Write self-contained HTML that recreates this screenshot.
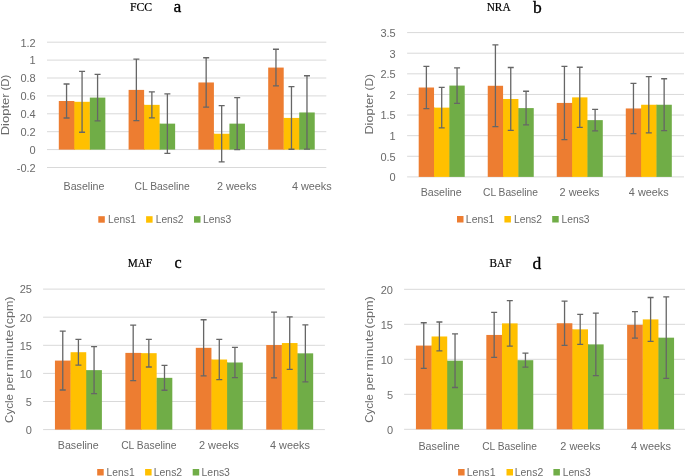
<!DOCTYPE html>
<html><head><meta charset="utf-8"><style>
html,body{margin:0;padding:0;background:#fff;}
body{width:685px;height:476px;overflow:hidden;}
svg{display:block;}
text{filter:grayscale(1);}
.ya{font-family:"Liberation Sans", sans-serif;font-size:11px;fill:#6a6a6a;}
.t{font-family:"Liberation Sans", sans-serif;font-size:11px;fill:#6a6a6a;}
.ti{font-family:"Liberation Serif", serif;font-size:11.7px;fill:#000;stroke:#000;stroke-width:0.2px;}
.le.lc{font-size:16px;}
.le{font-family:"Liberation Serif", serif;font-size:17.5px;fill:#000;stroke:#000;stroke-width:0.35px;}
.e{stroke:#666666;stroke-width:1.3;fill:none;}
</style></head><body>
<div id="w"><svg width="685" height="476" viewBox="0 0 685 476">
<rect width="685" height="476" fill="#fff"/>
<line x1="47" y1="167.5" x2="326.3" y2="167.5" stroke="#D9D9D9" stroke-width="1"/>
<line x1="47" y1="149.6" x2="326.3" y2="149.6" stroke="#D9D9D9" stroke-width="1"/>
<line x1="47" y1="131.7" x2="326.3" y2="131.7" stroke="#D9D9D9" stroke-width="1"/>
<line x1="47" y1="113.8" x2="326.3" y2="113.8" stroke="#D9D9D9" stroke-width="1"/>
<line x1="47" y1="95.9" x2="326.3" y2="95.9" stroke="#D9D9D9" stroke-width="1"/>
<line x1="47" y1="78" x2="326.3" y2="78" stroke="#D9D9D9" stroke-width="1"/>
<line x1="47" y1="60.1" x2="326.3" y2="60.1" stroke="#D9D9D9" stroke-width="1"/>
<line x1="47" y1="42.2" x2="326.3" y2="42.2" stroke="#D9D9D9" stroke-width="1"/>
<text x="35.7" y="171.86" text-anchor="end" class="t">-0.2</text>
<text x="35.7" y="153.96" text-anchor="end" class="t">0</text>
<text x="35.7" y="136.06" text-anchor="end" class="t">0.2</text>
<text x="35.7" y="118.16" text-anchor="end" class="t">0.4</text>
<text x="35.7" y="100.26" text-anchor="end" class="t">0.6</text>
<text x="35.7" y="82.36" text-anchor="end" class="t">0.8</text>
<text x="35.7" y="64.46" text-anchor="end" class="t">1</text>
<text x="35.7" y="46.56" text-anchor="end" class="t">1.2</text>
<rect x="58.8" y="101" width="15.51" height="48.6" fill="#ED7D31"/>
<rect x="74.11" y="101.81" width="1" height="47.79" fill="#ED7D31"/>
<rect x="74.31" y="101.81" width="15.51" height="47.79" fill="#FFC000"/>
<rect x="89.63" y="101.81" width="1" height="47.79" fill="#FFC000"/>
<rect x="89.83" y="97.6" width="15.51" height="52" fill="#70AD47"/>
<rect x="128.6" y="89.9" width="15.51" height="59.7" fill="#ED7D31"/>
<rect x="143.91" y="104.85" width="1" height="44.75" fill="#ED7D31"/>
<rect x="144.11" y="104.85" width="15.51" height="44.75" fill="#FFC000"/>
<rect x="159.43" y="123.64" width="1" height="25.95" fill="#FFC000"/>
<rect x="159.63" y="123.64" width="15.51" height="25.95" fill="#70AD47"/>
<rect x="198.4" y="82.47" width="15.51" height="67.12" fill="#ED7D31"/>
<rect x="213.71" y="133.76" width="1" height="15.84" fill="#ED7D31"/>
<rect x="213.91" y="133.76" width="15.51" height="15.84" fill="#FFC000"/>
<rect x="229.23" y="133.76" width="1" height="15.84" fill="#FFC000"/>
<rect x="229.43" y="123.64" width="15.51" height="25.95" fill="#70AD47"/>
<rect x="268.2" y="67.57" width="15.51" height="82.03" fill="#ED7D31"/>
<rect x="283.51" y="117.92" width="1" height="31.68" fill="#ED7D31"/>
<rect x="283.71" y="117.92" width="15.51" height="31.68" fill="#FFC000"/>
<rect x="299.03" y="117.92" width="1" height="31.68" fill="#FFC000"/>
<rect x="299.23" y="112.46" width="15.51" height="37.14" fill="#70AD47"/>
<path d="M66.56 84V118.01M63.56 84h6M63.56 118.01h6" class="e"/>
<path d="M82.07 71.38V132.24M79.07 71.38h6M79.07 132.24h6" class="e"/>
<path d="M97.58 74.33V120.87M94.58 74.33h6M94.58 120.87h6" class="e"/>
<path d="M136.36 59.12V120.69M133.36 59.12h6M133.36 120.69h6" class="e"/>
<path d="M151.87 91.87V117.83M148.87 91.87h6M148.87 117.83h6" class="e"/>
<path d="M167.38 93.84V153.45M164.38 93.84h6M164.38 153.45h6" class="e"/>
<path d="M206.16 57.77V107.18M203.16 57.77h6M203.16 107.18h6" class="e"/>
<path d="M221.67 105.66V161.86M218.67 105.66h6M218.67 161.86h6" class="e"/>
<path d="M237.18 97.69V149.6M234.18 97.69h6M234.18 149.6h6" class="e"/>
<path d="M275.96 49.27V85.88M272.96 49.27h6M272.96 85.88h6" class="e"/>
<path d="M291.47 86.59V149.24M288.47 86.59h6M288.47 149.24h6" class="e"/>
<path d="M306.98 75.76V149.15M303.98 75.76h6M303.98 149.15h6" class="e"/>
<text x="63.54" y="190.4" class="t" textLength="40.92" lengthAdjust="spacingAndGlyphs">Baseline</text>
<text x="134.48" y="190.4" class="t" textLength="55.27" lengthAdjust="spacingAndGlyphs">CL Baseline</text>
<text x="217.01" y="190.4" class="t" textLength="39.71" lengthAdjust="spacingAndGlyphs">2 weeks</text>
<text x="291.89" y="190.4" class="t" textLength="39.87" lengthAdjust="spacingAndGlyphs">4 weeks</text>
<text transform="translate(9.3 135.32) rotate(-90)" class="ya" textLength="41.86" lengthAdjust="spacingAndGlyphs">Diopter</text>
<text transform="translate(9.3 90.49) rotate(-90)" class="ya" textLength="15.83" lengthAdjust="spacingAndGlyphs">(D)</text>
<text x="129.99" y="10.7" class="ti" textLength="22.11" lengthAdjust="spacingAndGlyphs">FCC</text>
<text x="173.6" y="12" class="le">a</text>
<rect x="98.3" y="216.2" width="6.5" height="6.5" fill="#ED7D31"/>
<text x="108.12" y="222.8" class="t" textLength="27.88" lengthAdjust="spacingAndGlyphs">Lens1</text>
<rect x="146.1" y="216.2" width="6.5" height="6.5" fill="#FFC000"/>
<text x="155.73" y="222.8" class="t" textLength="27.79" lengthAdjust="spacingAndGlyphs">Lens2</text>
<rect x="194" y="216.2" width="6.5" height="6.5" fill="#70AD47"/>
<text x="203.02" y="222.8" class="t" textLength="28.22" lengthAdjust="spacingAndGlyphs">Lens3</text>
<line x1="407.1" y1="176.9" x2="684" y2="176.9" stroke="#D9D9D9" stroke-width="1"/>
<line x1="407.1" y1="156.28" x2="684" y2="156.28" stroke="#D9D9D9" stroke-width="1"/>
<line x1="407.1" y1="135.67" x2="684" y2="135.67" stroke="#D9D9D9" stroke-width="1"/>
<line x1="407.1" y1="115.06" x2="684" y2="115.06" stroke="#D9D9D9" stroke-width="1"/>
<line x1="407.1" y1="94.44" x2="684" y2="94.44" stroke="#D9D9D9" stroke-width="1"/>
<line x1="407.1" y1="73.83" x2="684" y2="73.83" stroke="#D9D9D9" stroke-width="1"/>
<line x1="407.1" y1="53.21" x2="684" y2="53.21" stroke="#D9D9D9" stroke-width="1"/>
<line x1="407.1" y1="32.6" x2="684" y2="32.6" stroke="#D9D9D9" stroke-width="1"/>
<text x="395.7" y="181.26" text-anchor="end" class="t">0</text>
<text x="395.7" y="160.65" text-anchor="end" class="t">0.5</text>
<text x="395.7" y="140.03" text-anchor="end" class="t">1</text>
<text x="395.7" y="119.42" text-anchor="end" class="t">1.5</text>
<text x="395.7" y="98.8" text-anchor="end" class="t">2</text>
<text x="395.7" y="78.19" text-anchor="end" class="t">2.5</text>
<text x="395.7" y="57.57" text-anchor="end" class="t">3</text>
<text x="395.7" y="36.96" text-anchor="end" class="t">3.5</text>
<rect x="418.7" y="87.51" width="15.34" height="89.39" fill="#ED7D31"/>
<rect x="433.84" y="107.63" width="1" height="69.27" fill="#ED7D31"/>
<rect x="434.04" y="107.63" width="15.34" height="69.27" fill="#FFC000"/>
<rect x="449.18" y="107.63" width="1" height="69.27" fill="#FFC000"/>
<rect x="449.38" y="85.58" width="15.34" height="91.32" fill="#70AD47"/>
<rect x="487.74" y="85.78" width="15.34" height="91.12" fill="#ED7D31"/>
<rect x="502.88" y="98.98" width="1" height="77.92" fill="#ED7D31"/>
<rect x="503.07" y="98.98" width="15.34" height="77.92" fill="#FFC000"/>
<rect x="518.21" y="108.09" width="1" height="68.81" fill="#FFC000"/>
<rect x="518.41" y="108.09" width="15.34" height="68.81" fill="#70AD47"/>
<rect x="556.76" y="102.93" width="15.34" height="73.97" fill="#ED7D31"/>
<rect x="571.9" y="102.93" width="1" height="73.97" fill="#ED7D31"/>
<rect x="572.11" y="97.37" width="15.34" height="79.53" fill="#FFC000"/>
<rect x="587.25" y="120.13" width="1" height="56.77" fill="#FFC000"/>
<rect x="587.44" y="120.13" width="15.34" height="56.77" fill="#70AD47"/>
<rect x="625.79" y="108.46" width="15.34" height="68.44" fill="#ED7D31"/>
<rect x="640.93" y="108.46" width="1" height="68.44" fill="#ED7D31"/>
<rect x="641.13" y="104.75" width="15.34" height="72.15" fill="#FFC000"/>
<rect x="656.27" y="104.75" width="1" height="72.15" fill="#FFC000"/>
<rect x="656.47" y="104.75" width="15.34" height="72.15" fill="#70AD47"/>
<path d="M426.38 66.36V108.66M423.38 66.36h6M423.38 108.66h6" class="e"/>
<path d="M441.71 87.43V127.84M438.71 87.43h6M438.71 127.84h6" class="e"/>
<path d="M457.06 67.85V103.3M454.06 67.85h6M454.06 103.3h6" class="e"/>
<path d="M495.41 44.96V126.6M492.41 44.96h6M492.41 126.6h6" class="e"/>
<path d="M510.75 67.52V130.43M507.75 67.52h6M507.75 130.43h6" class="e"/>
<path d="M526.08 91.27V124.91M523.08 91.27h6M523.08 124.91h6" class="e"/>
<path d="M564.43 66.28V139.59M561.43 66.28h6M561.43 139.59h6" class="e"/>
<path d="M579.77 67.27V127.47M576.77 67.27h6M576.77 127.47h6" class="e"/>
<path d="M595.11 109.41V130.85M592.11 109.41h6M592.11 130.85h6" class="e"/>
<path d="M633.46 83.31V133.61M630.46 83.31h6M630.46 133.61h6" class="e"/>
<path d="M648.8 76.71V132.78M645.8 76.71h6M645.8 132.78h6" class="e"/>
<path d="M664.14 78.77V130.72M661.14 78.77h6M661.14 130.72h6" class="e"/>
<text x="420.76" y="196.3" class="t" textLength="40.91" lengthAdjust="spacingAndGlyphs">Baseline</text>
<text x="482.97" y="196.3" class="t" textLength="54.97" lengthAdjust="spacingAndGlyphs">CL Baseline</text>
<text x="559.6" y="196.3" class="t" textLength="39.98" lengthAdjust="spacingAndGlyphs">2 weeks</text>
<text x="628.87" y="196.3" class="t" textLength="39.81" lengthAdjust="spacingAndGlyphs">4 weeks</text>
<text transform="translate(373 134.61) rotate(-90)" class="ya" textLength="41.2" lengthAdjust="spacingAndGlyphs">Diopter</text>
<text transform="translate(373 90.45) rotate(-90)" class="ya" textLength="16.46" lengthAdjust="spacingAndGlyphs">(D)</text>
<text x="486.66" y="10.5" class="ti" textLength="23.99" lengthAdjust="spacingAndGlyphs">NRA</text>
<text x="533" y="13" class="le">b</text>
<rect x="457" y="216" width="6.5" height="6.5" fill="#ED7D31"/>
<text x="465.87" y="222.6" class="t" textLength="28.52" lengthAdjust="spacingAndGlyphs">Lens1</text>
<rect x="504.4" y="216" width="6.5" height="6.5" fill="#FFC000"/>
<text x="514.04" y="222.6" class="t" textLength="27.84" lengthAdjust="spacingAndGlyphs">Lens2</text>
<rect x="552.2" y="216" width="6.5" height="6.5" fill="#70AD47"/>
<text x="561.59" y="222.6" class="t" textLength="27.97" lengthAdjust="spacingAndGlyphs">Lens3</text>
<line x1="43.1" y1="429.6" x2="324.9" y2="429.6" stroke="#D9D9D9" stroke-width="1"/>
<line x1="43.1" y1="401.5" x2="324.9" y2="401.5" stroke="#D9D9D9" stroke-width="1"/>
<line x1="43.1" y1="373.4" x2="324.9" y2="373.4" stroke="#D9D9D9" stroke-width="1"/>
<line x1="43.1" y1="345.3" x2="324.9" y2="345.3" stroke="#D9D9D9" stroke-width="1"/>
<line x1="43.1" y1="317.2" x2="324.9" y2="317.2" stroke="#D9D9D9" stroke-width="1"/>
<line x1="43.1" y1="289.1" x2="324.9" y2="289.1" stroke="#D9D9D9" stroke-width="1"/>
<text x="31.9" y="433.96" text-anchor="end" class="t">0</text>
<text x="31.9" y="405.86" text-anchor="end" class="t">5</text>
<text x="31.9" y="377.76" text-anchor="end" class="t">10</text>
<text x="31.9" y="349.66" text-anchor="end" class="t">15</text>
<text x="31.9" y="321.56" text-anchor="end" class="t">20</text>
<text x="31.9" y="293.46" text-anchor="end" class="t">25</text>
<rect x="54.94" y="360.59" width="15.65" height="69.01" fill="#ED7D31"/>
<rect x="70.39" y="360.59" width="1" height="69.01" fill="#ED7D31"/>
<rect x="70.59" y="352.21" width="15.65" height="77.39" fill="#FFC000"/>
<rect x="86.04" y="370.14" width="1" height="59.46" fill="#FFC000"/>
<rect x="86.24" y="370.14" width="15.65" height="59.46" fill="#70AD47"/>
<rect x="125.37" y="352.89" width="15.65" height="76.71" fill="#ED7D31"/>
<rect x="140.82" y="353.17" width="1" height="76.43" fill="#ED7D31"/>
<rect x="141.02" y="353.17" width="15.65" height="76.43" fill="#FFC000"/>
<rect x="156.47" y="377.84" width="1" height="51.76" fill="#FFC000"/>
<rect x="156.67" y="377.84" width="15.65" height="51.76" fill="#70AD47"/>
<rect x="195.8" y="347.83" width="15.65" height="81.77" fill="#ED7D31"/>
<rect x="211.25" y="359.52" width="1" height="70.08" fill="#ED7D31"/>
<rect x="211.45" y="359.52" width="15.65" height="70.08" fill="#FFC000"/>
<rect x="226.9" y="362.5" width="1" height="67.1" fill="#FFC000"/>
<rect x="227.1" y="362.5" width="15.65" height="67.1" fill="#70AD47"/>
<rect x="266.23" y="345.02" width="15.65" height="84.58" fill="#ED7D31"/>
<rect x="281.68" y="345.02" width="1" height="84.58" fill="#ED7D31"/>
<rect x="281.88" y="343.05" width="15.65" height="86.55" fill="#FFC000"/>
<rect x="297.33" y="353.34" width="1" height="76.26" fill="#FFC000"/>
<rect x="297.53" y="353.34" width="15.65" height="76.26" fill="#70AD47"/>
<path d="M62.76 331.19V389.98M59.76 331.19h6M59.76 389.98h6" class="e"/>
<path d="M78.42 339.4V365.03M75.42 339.4h6M75.42 365.03h6" class="e"/>
<path d="M94.07 346.59V393.69M91.07 346.59h6M91.07 393.69h6" class="e"/>
<path d="M133.19 325.07V380.71M130.19 325.07h6M130.19 380.71h6" class="e"/>
<path d="M148.84 339.34V366.99M145.84 339.34h6M145.84 366.99h6" class="e"/>
<path d="M164.5 365.42V390.26M161.5 365.42h6M161.5 390.26h6" class="e"/>
<path d="M203.62 319.73V375.93M200.62 319.73h6M200.62 375.93h6" class="e"/>
<path d="M219.28 339.46V379.58M216.28 339.46h6M216.28 379.58h6" class="e"/>
<path d="M234.93 347.38V377.62M231.93 347.38h6M231.93 377.62h6" class="e"/>
<path d="M274.05 312.14V377.9M271.05 312.14h6M271.05 377.9h6" class="e"/>
<path d="M289.71 316.81V369.3M286.71 316.81h6M286.71 369.3h6" class="e"/>
<path d="M305.36 324.84V381.83M302.36 324.84h6M302.36 381.83h6" class="e"/>
<text x="57.83" y="449.1" class="t" textLength="40.9" lengthAdjust="spacingAndGlyphs">Baseline</text>
<text x="121.15" y="449.1" class="t" textLength="55.33" lengthAdjust="spacingAndGlyphs">CL Baseline</text>
<text x="199.02" y="449.1" class="t" textLength="40.03" lengthAdjust="spacingAndGlyphs">2 weeks</text>
<text x="270.06" y="449.1" class="t" textLength="39.79" lengthAdjust="spacingAndGlyphs">4 weeks</text>
<text transform="translate(12.5 422.89) rotate(-90)" class="ya" textLength="28.79" lengthAdjust="spacingAndGlyphs">Cycle</text>
<text transform="translate(12.5 390.4) rotate(-90)" class="ya" textLength="17.73" lengthAdjust="spacingAndGlyphs">per</text>
<text transform="translate(12.5 370.54) rotate(-90)" class="ya" textLength="40.9" lengthAdjust="spacingAndGlyphs">minute</text>
<text transform="translate(12.5 328.42) rotate(-90)" class="ya" textLength="31.92" lengthAdjust="spacingAndGlyphs">(cpm)</text>
<text x="127.72" y="266.9" class="ti" textLength="24.41" lengthAdjust="spacingAndGlyphs">MAF</text>
<text x="174.5" y="268.4" class="le lc">c</text>
<rect x="97.2" y="469" width="6.5" height="6.5" fill="#ED7D31"/>
<text x="106.62" y="476.4" class="t" textLength="28.02" lengthAdjust="spacingAndGlyphs">Lens1</text>
<rect x="145.1" y="469" width="6.5" height="6.5" fill="#FFC000"/>
<text x="153.71" y="476.4" class="t" textLength="28.47" lengthAdjust="spacingAndGlyphs">Lens2</text>
<rect x="192.7" y="469" width="6.5" height="6.5" fill="#70AD47"/>
<text x="201.55" y="476.4" class="t" textLength="28.38" lengthAdjust="spacingAndGlyphs">Lens3</text>
<line x1="404.1" y1="429.3" x2="686" y2="429.3" stroke="#D9D9D9" stroke-width="1"/>
<line x1="404.1" y1="394.3" x2="686" y2="394.3" stroke="#D9D9D9" stroke-width="1"/>
<line x1="404.1" y1="359.3" x2="686" y2="359.3" stroke="#D9D9D9" stroke-width="1"/>
<line x1="404.1" y1="324.3" x2="686" y2="324.3" stroke="#D9D9D9" stroke-width="1"/>
<line x1="404.1" y1="289.3" x2="686" y2="289.3" stroke="#D9D9D9" stroke-width="1"/>
<text x="393" y="433.66" text-anchor="end" class="t">0</text>
<text x="393" y="398.66" text-anchor="end" class="t">5</text>
<text x="393" y="363.66" text-anchor="end" class="t">10</text>
<text x="393" y="328.66" text-anchor="end" class="t">15</text>
<text x="393" y="293.66" text-anchor="end" class="t">20</text>
<rect x="415.93" y="345.58" width="15.64" height="83.72" fill="#ED7D31"/>
<rect x="431.38" y="345.58" width="1" height="83.72" fill="#ED7D31"/>
<rect x="431.58" y="336.48" width="15.64" height="92.82" fill="#FFC000"/>
<rect x="447.02" y="360.7" width="1" height="68.6" fill="#FFC000"/>
<rect x="447.22" y="360.7" width="15.64" height="68.6" fill="#70AD47"/>
<rect x="486.33" y="334.94" width="15.64" height="94.36" fill="#ED7D31"/>
<rect x="501.78" y="334.94" width="1" height="94.36" fill="#ED7D31"/>
<rect x="501.98" y="323.39" width="15.64" height="105.91" fill="#FFC000"/>
<rect x="517.42" y="360.21" width="1" height="69.09" fill="#FFC000"/>
<rect x="517.62" y="360.21" width="15.64" height="69.09" fill="#70AD47"/>
<rect x="556.73" y="323.25" width="15.64" height="106.05" fill="#ED7D31"/>
<rect x="572.18" y="329.34" width="1" height="99.96" fill="#ED7D31"/>
<rect x="572.38" y="329.34" width="15.64" height="99.96" fill="#FFC000"/>
<rect x="587.82" y="344.39" width="1" height="84.91" fill="#FFC000"/>
<rect x="588.02" y="344.39" width="15.64" height="84.91" fill="#70AD47"/>
<rect x="627.13" y="324.86" width="15.64" height="104.44" fill="#ED7D31"/>
<rect x="642.58" y="324.86" width="1" height="104.44" fill="#ED7D31"/>
<rect x="642.78" y="319.4" width="15.64" height="109.9" fill="#FFC000"/>
<rect x="658.22" y="337.67" width="1" height="91.63" fill="#FFC000"/>
<rect x="658.42" y="337.67" width="15.64" height="91.63" fill="#70AD47"/>
<path d="M423.76 322.76V368.4M420.76 322.76h6M420.76 368.4h6" class="e"/>
<path d="M439.4 321.99V350.97M436.4 321.99h6M436.4 350.97h6" class="e"/>
<path d="M455.04 333.89V387.51M452.04 333.89h6M452.04 387.51h6" class="e"/>
<path d="M494.16 312.47V357.41M491.16 312.47h6M491.16 357.41h6" class="e"/>
<path d="M509.8 300.57V346.21M506.8 300.57h6M506.8 346.21h6" class="e"/>
<path d="M525.44 353.21V367.21M522.44 353.21h6M522.44 367.21h6" class="e"/>
<path d="M564.56 301.13V345.37M561.56 301.13h6M561.56 345.37h6" class="e"/>
<path d="M580.2 314.29V344.39M577.2 314.29h6M577.2 344.39h6" class="e"/>
<path d="M595.84 313.17V375.61M592.84 313.17h6M592.84 375.61h6" class="e"/>
<path d="M634.96 311.63V338.09M631.96 311.63h6M631.96 338.09h6" class="e"/>
<path d="M650.6 297.49V341.31M647.6 297.49h6M647.6 341.31h6" class="e"/>
<path d="M666.24 296.93V378.41M663.24 296.93h6M663.24 378.41h6" class="e"/>
<text x="418.43" y="449.6" class="t" textLength="41.25" lengthAdjust="spacingAndGlyphs">Baseline</text>
<text x="482.19" y="449.6" class="t" textLength="54.75" lengthAdjust="spacingAndGlyphs">CL Baseline</text>
<text x="560.29" y="449.6" class="t" textLength="40.07" lengthAdjust="spacingAndGlyphs">2 weeks</text>
<text x="630.9" y="449.6" class="t" textLength="40.09" lengthAdjust="spacingAndGlyphs">4 weeks</text>
<text transform="translate(373.3 422.87) rotate(-90)" class="ya" textLength="28.71" lengthAdjust="spacingAndGlyphs">Cycle</text>
<text transform="translate(373.3 390.37) rotate(-90)" class="ya" textLength="17.61" lengthAdjust="spacingAndGlyphs">per</text>
<text transform="translate(373.3 370.55) rotate(-90)" class="ya" textLength="40.76" lengthAdjust="spacingAndGlyphs">minute</text>
<text transform="translate(373.3 328.41) rotate(-90)" class="ya" textLength="32.21" lengthAdjust="spacingAndGlyphs">(cpm)</text>
<text x="489.55" y="267" class="ti" textLength="21.89" lengthAdjust="spacingAndGlyphs">BAF</text>
<text x="532.4" y="269" class="le">d</text>
<rect x="458.1" y="469" width="6.5" height="6.5" fill="#ED7D31"/>
<text x="466.75" y="476.4" class="t" textLength="28.79" lengthAdjust="spacingAndGlyphs">Lens1</text>
<rect x="506.5" y="469" width="6.5" height="6.5" fill="#FFC000"/>
<text x="514.76" y="476.4" class="t" textLength="28.48" lengthAdjust="spacingAndGlyphs">Lens2</text>
<rect x="553.4" y="469" width="6.5" height="6.5" fill="#70AD47"/>
<text x="562.74" y="476.4" class="t" textLength="27.84" lengthAdjust="spacingAndGlyphs">Lens3</text>
</svg></div>
</body></html>
